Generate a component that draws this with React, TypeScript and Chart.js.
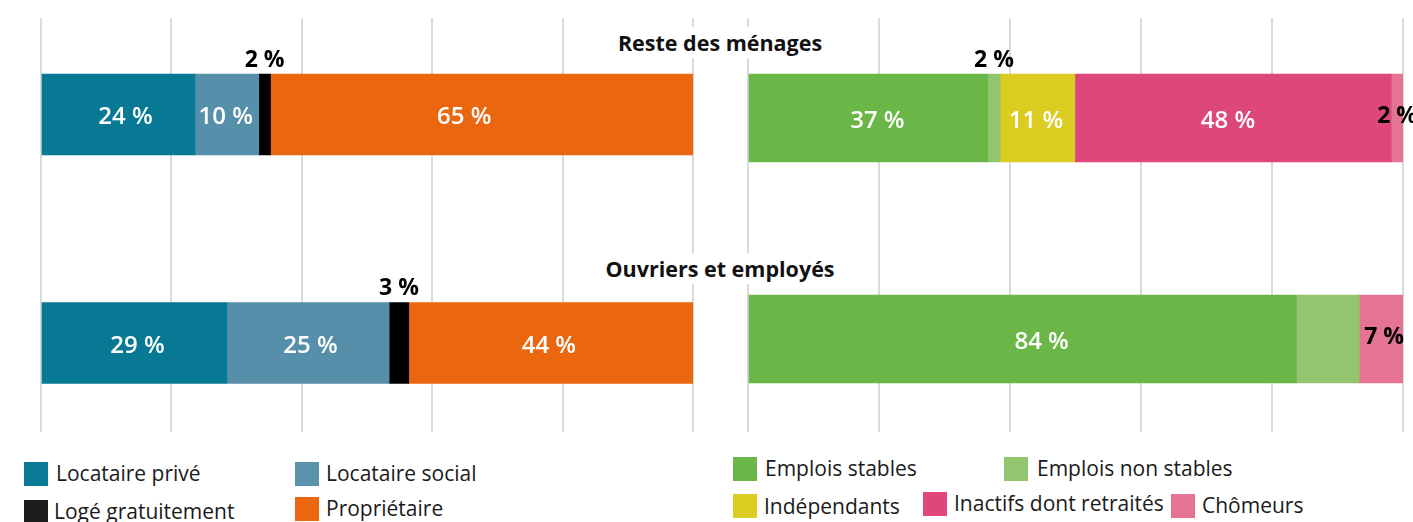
import React, { useEffect, useRef } from "react";
import { Chart, registerables } from "chart.js";

Chart.register(...registerables);

// ---------- data ----------
const groups = ["Reste des ménages", "Ouvriers et employés"];

const housingSeries = ["Locataire privé", "Locataire social", "Logé gratuitement", "Propriétaire"];
const locatairePrive = [23.6, 28.5];
const locataireSocial = [9.8, 24.9];
const logeGratuitement = [1.8, 3.0];
const proprietaire = [64.8, 43.6];

const activitySeries = ["Emplois stables", "Emplois non stables", "Indépendants", "Inactifs dont retraités", "Chômeurs"];
const emploisStables = [36.6, 83.7];
const emploisNonStables = [1.9, 9.6];
const independants = [11.4, 0];
const inactifs = [48.3, 0];
const chomeurs = [1.8, 6.7];

const xTicks = [0, 20, 40, 60, 80, 100];

// ---------- styles ----------
const housingColors = ["#077995", "#568FA9", "#000000", "#EB670F"];
const housingLegendColors = ["#0B7C98", "#5A92AB", "#1D1D1B", "#EB670F"];
const activityColors = ["#6AB748", "#93C56F", "#DCCB20", "#DE477C", "#E57394"];

// label placement per dataset / per bar: in = white inside, above = black above bar, dark = black centred
const housingLabelModes = [["in", "in"], ["in", "in"], ["above", "above"], ["in", "in"]];
const activityLabelModes = [["in", "in"], ["above", "none"], ["in", "none"], ["in", "none"], ["dark", "dark"]];
// small horizontal nudges (px) of the labels, as placed in the original
const housingLabelNudge = [[7, 3], [-1, 2.5], [0, 0], [-17.5, -2]];
const activityLabelNudge = [[9, 19], [0, 0], [-1.5, 0], [-5, 0], [0, 3]];

const legendLayout = [
  { label: housingSeries[0], color: housingLegendColors[0], sx: 24, sy: 462, tx: 56, ty: 473 },
  { label: housingSeries[1], color: housingLegendColors[1], sx: 295, sy: 462, tx: 326, ty: 473 },
  { label: housingSeries[2], color: housingLegendColors[2], sx: 24, sy: 500, tx: 54, ty: 511 },
  { label: housingSeries[3], color: housingLegendColors[3], sx: 295, sy: 497, tx: 326, ty: 508 },
  { label: activitySeries[0], color: activityColors[0], sx: 733, sy: 457, tx: 765, ty: 468 },
  { label: activitySeries[1], color: activityColors[1], sx: 1004, sy: 457, tx: 1037, ty: 468 },
  { label: activitySeries[2], color: activityColors[2], sx: 733, sy: 494, tx: 764, ty: 506 },
  { label: activitySeries[3], color: activityColors[3], sx: 923, sy: 492, tx: 954, ty: 503 },
  { label: activitySeries[4], color: activityColors[4], sx: 1171, sy: 494, tx: 1202, ty: 505 },
];

function makeLabelPlugin(modes: string[][], nudges: number[][]) {
  return {
    id: "segLabels",
    afterDatasetsDraw(chart: any) {
      const ctx = chart.ctx;
      chart.data.datasets.forEach((ds: any, di: number) => {
        const meta = chart.getDatasetMeta(di);
        meta.data.forEach((el: any, i: number) => {
          const mode = modes[di][i];
          const v = ds.data[i].x;
          if (mode === "none" || !v) return;
          const p = el.getProps(["x", "y", "base", "height"], true);
          const cx = (p.x + p.base) / 2 + (nudges[di][i] || 0);
          const text = Math.round(v) + " %";
          let ty = p.y + 3;
          ctx.save();
          ctx.textAlign = "center";
          ctx.textBaseline = "middle";
          if (mode === "in") {
            ctx.fillStyle = "#ffffff";
            ctx.font = '600 24px "Open Sans"';
          } else {
            ctx.fillStyle = "#000000";
            ctx.font = 'bold 23px "Open Sans"';
            if (mode === "above") ty = p.y - p.height / 2 - 14;
            else ty = p.y - 2;
          }
          ctx.fillText(text, cx, ty);
          ctx.restore();
        });
      });
    },
  };
}

function buildConfig(
  names: string[],
  values: number[][],
  colors: string[],
  modes: string[][],
  nudges: number[][],
  thickness: number,
  padding: any,
  yMin: number,
  yMax: number
): any {
  return {
    type: "bar",
    data: {
      labels: groups,
      datasets: names.map((name, k) => ({
        label: name,
        data: values[k].map((v, i) => ({ x: v, y: i })),
        backgroundColor: colors[k],
        borderWidth: 0,
        barThickness: thickness,
      })),
    },
    plugins: [makeLabelPlugin(modes, nudges)],
    options: {
      indexAxis: "y",
      animation: false,
      responsive: false,
      maintainAspectRatio: false,
      layout: { padding },
      plugins: { legend: { display: false }, tooltip: { enabled: false } },
      scales: {
        x: {
          type: "linear",
          min: 0,
          max: 100,
          stacked: true,
          offset: false,
          afterBuildTicks: (s: any) => {
            s.min = 0;
            s.max = 100;
            s.ticks = xTicks.map((value) => ({ value }));
          },
          ticks: { display: false },
          grid: { color: "#DADADA", lineWidth: 2, drawTicks: false, offset: false },
          border: { display: false },
        },
        y: {
          type: "linear",
          min: yMin,
          max: yMax,
          reverse: true,
          stacked: true,
          offset: false,
          grid: { offset: false, display: false },
          afterBuildTicks: (s: any) => {
            s.min = yMin;
            s.max = yMax;
            s.ticks = [];
          },
          display: false,
        },
      },
    },
  };
}

export default function App() {
  const leftRef = useRef<HTMLCanvasElement>(null);
  const rightRef = useRef<HTMLCanvasElement>(null);

  useEffect(() => {
    const left = new Chart(
      leftRef.current as HTMLCanvasElement,
      buildConfig(
        housingSeries,
        [locatairePrive, locataireSocial, logeGratuitement, proprietaire],
        housingColors,
        housingLabelModes,
        housingLabelNudge,
        81,
        { left: 41, right: 27, top: 18, bottom: 8 },
        -0.4223,
        1.3895
      )
    );
    const right = new Chart(
      rightRef.current as HTMLCanvasElement,
      buildConfig(
        activitySeries,
        [emploisStables, emploisNonStables, independants, inactifs, chomeurs],
        activityColors,
        activityLabelModes,
        activityLabelNudge,
        88,
        { left: 28, right: 10, top: 18, bottom: 8 },
        -0.4525,
        1.4208
      )
    );
    return () => {
      left.destroy();
      right.destroy();
    };
  }, []);

  const titleStyle = (top: number): React.CSSProperties => ({
    position: "absolute",
    left: 720,
    top,
    transform: "translateX(-50%)",
    height: 31,
    lineHeight: "31px",
    padding: "0 6px",
    background: "#ffffff",
    fontFamily: '"Open Sans", sans-serif',
    fontWeight: 700,
    fontSize: 21.5,
    color: "#111111",
    whiteSpace: "nowrap",
    zIndex: 2,
  });

  return (
    <div
      style={{
        position: "absolute",
        left: 0,
        top: 0,
        width: 1413,
        height: 522,
        overflow: "hidden",
        background: "#ffffff",
      }}
    >
      <canvas ref={leftRef} width={720} height={440} style={{ position: "absolute", left: 0, top: 0 }} />
      <canvas ref={rightRef} width={693} height={440} style={{ position: "absolute", left: 720, top: 0 }} />
      <div style={titleStyle(27)}>{groups[0]}</div>
      <div style={titleStyle(253)}>{groups[1]}</div>
      {legendLayout.map((item) => (
        <React.Fragment key={item.label}>
          <div
            style={{
              position: "absolute",
              left: item.sx,
              top: item.sy,
              width: 24,
              height: 24,
              background: item.color,
            }}
          />
          <div
            style={{
              position: "absolute",
              left: item.tx,
              top: item.ty,
              transform: "translateY(-50%)",
              fontFamily: '"Open Sans", sans-serif',
              fontSize: 21,
              lineHeight: "28px",
              color: "#1A1A1A",
              whiteSpace: "nowrap",
            }}
          >
            {item.label}
          </div>
        </React.Fragment>
      ))}
    </div>
  );
}
